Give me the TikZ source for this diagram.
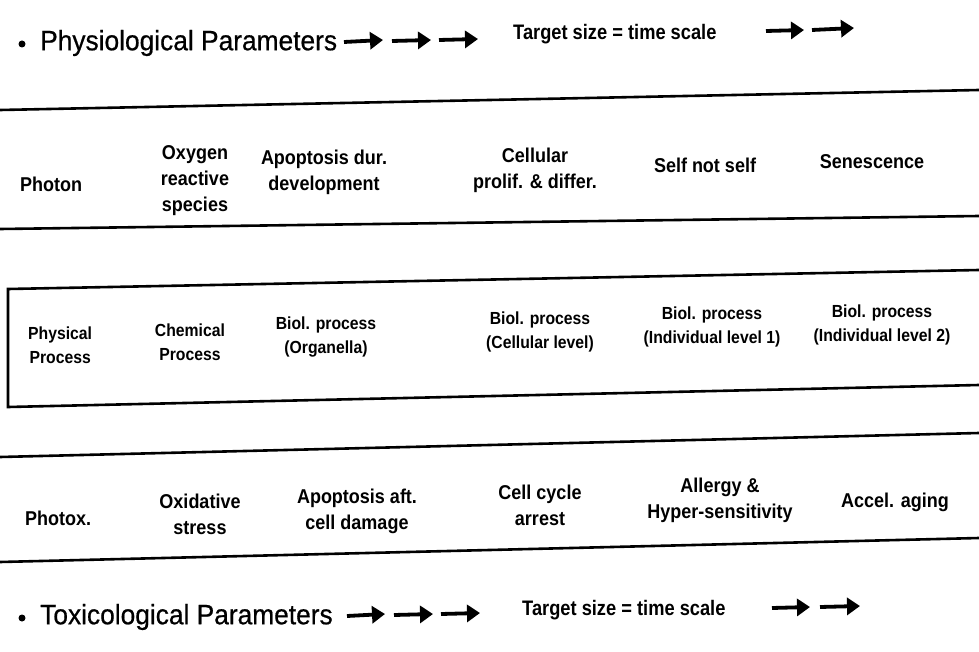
\documentclass[tikz,border=0pt]{standalone}
\usepackage{fontspec}
\setmainfont{Liberation Sans}
\newfontfamily\rowfont[FakeStretch=0.9]{Liberation Sans}
\newfontfamily\tgtfont[FakeStretch=0.87]{Liberation Sans}
\newfontfamily\ttlfont[FakeStretch=0.94,FakeBold=0.6]{Liberation Sans}
\usetikzlibrary{arrows.meta}
\tikzset{
  rowtxt/.style={inner sep=0pt, align=center, font=\rowfont\bfseries\fontsize{20}{26}\selectfont},
  midtxt/.style={inner sep=0pt, align=center, font=\rowfont\bfseries\fontsize{17.5}{24}\selectfont},
  title/.style={inner sep=0pt, anchor=west, font=\ttlfont\fontsize{28}{32}\selectfont},
  target/.style={inner sep=0pt, anchor=west, font=\tgtfont\bfseries\fontsize{21}{24}\selectfont},
  rule/.style={line width=2.6pt},
  bigarrow/.style={line width=3.8pt, -{Triangle[length=13pt,width=17pt]}},
  dotb/.style={circle, fill=black, inner sep=0pt, minimum size=7pt}
}
\begin{document}
\begin{tikzpicture}[x=1pt,y=-1pt]
\useasboundingbox (0,0) rectangle (979,652);
% top title
\node[dotb] (b1) at (22,44) {};
\node[title] (t1) at (40,43) {Physiological Parameters};
\draw[bigarrow] (344,42) -- (383,40);
\draw[bigarrow] (392,41) -- (431,40);
\draw[bigarrow] (439,40) -- (478,39);
\node[target] (g1) at (513,34) {Target size = time scale};
\draw[bigarrow] (766,31) -- (804,30);
\draw[bigarrow] (812,30) -- (854,28);
% rules
\draw[rule] (0,110) -- (979,90);
\draw[rule] (0,229) -- (979,216);
% row 1
\node[rowtxt, anchor=west] (r1a) at (20,184) {Photon};
\node[rowtxt] (r1b) at (195,181) {Oxygen\\reactive\\species};
\node[rowtxt] (r1c) at (324,172) {Apoptosis dur.\\development};
\node[rowtxt] (r1d) at (535,170) {Cellular\\prolif. \& differ.};
\node[rowtxt] (r1e) at (705,165) {Self not self};
\node[rowtxt] (r1f) at (872,162) {Senescence};
% box
\draw[rule] (979,270) -- (8,289) -- (8,407) -- (979,385);
% row 2
\node[midtxt, anchor=west] (r2a) at (28,345) {Physical\\Process};
\node[midtxt] (r2b) at (190,342) {Chemical\\Process};
\node[midtxt] (r2c) at (326,337) {Biol. process\\(Organella)};
\node[midtxt] (r2d) at (540,332) {Biol. process\\(Cellular level)};
\node[midtxt] (r2e) at (712,327) {Biol. process\\(Individual level 1)};
\node[midtxt] (r2f) at (882,325) {Biol. process\\(Individual level 2)};
% rules
\draw[rule] (0,457) -- (979,433);
\draw[rule] (0,562) -- (979,538);
% row 3
\node[rowtxt, anchor=west] (r3a) at (25,518) {Photox.};
\node[rowtxt] (r3b) at (200,514) {Oxidative\\stress};
\node[rowtxt] (r3c) at (357,511) {Apoptosis aft.\\cell damage};
\node[rowtxt] (r3d) at (540,505) {Cell cycle\\arrest};
\node[rowtxt] (r3e) at (720,500) {Allergy \&\\Hyper-sensitivity};
\node[rowtxt] (r3f) at (895,502) {Accel. aging};
% bottom title
\node[dotb] (b2) at (22,618) {};
\node[title] (t2) at (40,617) {Toxicological Parameters};
\draw[bigarrow] (347,616) -- (385,614);
\draw[bigarrow] (394,615) -- (433,614);
\draw[bigarrow] (441,614) -- (480,613);
\node[target] (g2) at (522,610) {Target size = time scale};
\draw[bigarrow] (772,608) -- (810,607);
\draw[bigarrow] (820,607) -- (860,606);
\end{tikzpicture}
\end{document}
